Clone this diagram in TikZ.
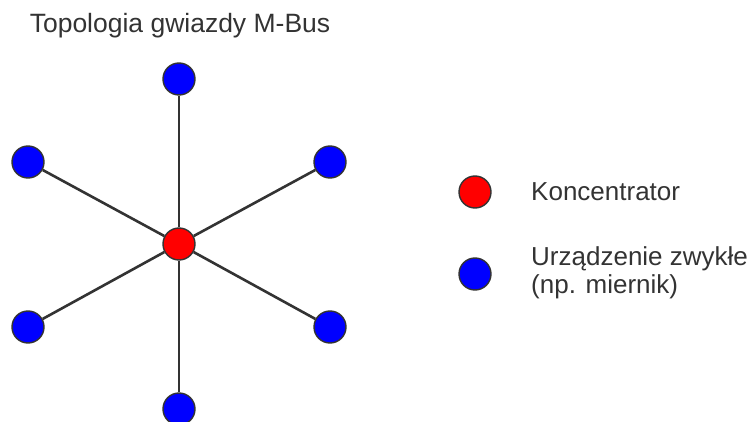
\documentclass[tikz,border=0pt]{standalone}
\usepackage{fontspec}
\setmainfont{Liberation Sans}
\definecolor{linegray}{RGB}{51,51,51}
\begin{document}
\begin{tikzpicture}[x=1pt, y=1pt,
	every node/.style={text=linegray},
	hub/.style={circle, fill=red, draw=linegray, line width=1.4pt, minimum size=32pt, inner sep=0pt},
	meter/.style={hub, fill=blue},
	link/.style={draw=linegray, line width=2.6pt},
	keytext/.style={anchor=base west, align=left, inner sep=0pt, font=\fontsize{26}{28}\selectfont}]
	
	\useasboundingbox (0,0) rectangle (753,421);
	
	% star: concentrator in the middle, six meters round it
	\node[hub] (hub) at (179,177) {};
	
	\node[meter] (devN) at (179,342) {};
	\node[meter] (devS) at (179,12) {};
	\node[meter] (devNW) at (28,259) {};
	\node[meter] (devNE) at (330,259) {};
	\node[meter] (devSW) at (28,94) {};
	\node[meter] (devSE) at (330,94) {};
	
	\foreach \dev in {devN, devS, devNW, devNE, devSW, devSE}
		\draw[link] (hub) -- (\dev);
	
	\node[anchor=base, font=\fontsize{26.5}{30}\selectfont] (title) at (180,388) {Topologia gwiazdy M-Bus};
	
	% legend
	\node[hub] (keyHub) at (475,229) {};
	\node[meter] (keyMeter) at (475,147) {};
	
	\node[keytext] (txtHub) at (531,220) {Koncentrator};
	% base of a two-line node sits on its last line
	\node[keytext] (txtMeter) at (531,128) {Urządzenie zwykłe\\(np. miernik)};
	
\end{tikzpicture}
\end{document}
